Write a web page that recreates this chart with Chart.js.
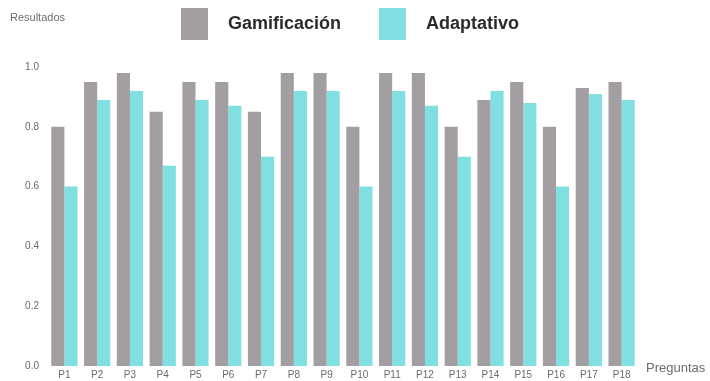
<!DOCTYPE html>
<html>
<head>
<meta charset="utf-8">
<script src="https://cdn.jsdelivr.net/npm/chart.js@4/dist/chart.umd.min.js"></script>
<style>
  html, body { margin: 0; padding: 0; background: #ffffff; }
  #wrap { width: 710px; height: 381px; }
</style>
</head>
<body>
<div id="wrap"><canvas id="c" width="710" height="381"></canvas></div>
<script>
// Questions P1..P18
const preguntas = ['P1','P2','P3','P4','P5','P6','P7','P8','P9','P10','P11','P12','P13','P14','P15','P16','P17','P18'];

// Result per question for each approach
const gamificacion = [0.80,0.95,0.98,0.85,0.95,0.95,0.85,0.98,0.98,0.80,0.98,0.98,0.80,0.89,0.95,0.80,0.93,0.95];
const adaptativo   = [0.60,0.89,0.92,0.67,0.89,0.87,0.70,0.92,0.92,0.60,0.92,0.87,0.70,0.92,0.88,0.60,0.91,0.89];

const serieNombres = ['Gamificación', 'Adaptativo'];
const yTicks = [0.0, 0.2, 0.4, 0.6, 0.8, 1.0];

const GRIS = '#a39ea1';
const CIAN = '#80e0e1';

// Axis captions and the big legend at the top
const decoracion = {
  id: 'decoracion',
  afterDraw(chart) {
    const ctx = chart.ctx;
    const area = chart.chartArea;
    ctx.save();
    ctx.textBaseline = 'middle';

    ctx.fillStyle = '#6b6b6b';
    ctx.font = '11px "Liberation Sans", Arial, sans-serif';
    ctx.textAlign = 'left';
    ctx.fillText('Resultados', 10, 18);

    ctx.font = '13px "Liberation Sans", Arial, sans-serif';
    ctx.fillText('Preguntas', area.right + 8, area.bottom + 2);

    // legend
    ctx.font = 'bold 18px "Liberation Sans", Arial, sans-serif';
    const boxW = 27, boxH = 32, gap = 20, between = 38;
    const items = chart.data.datasets.map(ds => ({ label: ds.label, color: ds.backgroundColor }));
    const widths = items.map(it => ctx.measureText(it.label).width);
    let total = 0;
    items.forEach((it, i) => { total += boxW + gap + widths[i]; });
    total += between * (items.length - 1);
    let x = 350 - total / 2;
    const cy = 24;
    items.forEach((it, i) => {
      ctx.fillStyle = it.color;
      ctx.fillRect(x, cy - boxH / 2, boxW, boxH);
      ctx.fillStyle = '#2b2b2b';
      ctx.fillText(it.label, x + boxW + gap, cy);
      x += boxW + gap + widths[i] + between;
    });
    ctx.restore();
  }
};

new Chart(document.getElementById('c'), {
  type: 'bar',
  data: {
    labels: preguntas,
    datasets: [
      { label: serieNombres[0], data: gamificacion, backgroundColor: GRIS },
      { label: serieNombres[1], data: adaptativo, backgroundColor: CIAN }
    ]
  },
  options: {
    responsive: false,
    animation: false,
    devicePixelRatio: 1,
    layout: { padding: { top: 67, right: 72, bottom: 0, left: 0 } },
    datasets: { bar: { categoryPercentage: 0.8, barPercentage: 1.0 } },
    plugins: {
      legend: { display: false },
      tooltip: { enabled: false }
    },
    scales: {
      x: {
        grid: { display: false, drawTicks: false },
        border: { display: false },
        ticks: {
          color: '#6b6b6b',
          font: { family: '"Liberation Sans", Arial, sans-serif', size: 10 },
          padding: 3,
          maxRotation: 0,
          autoSkip: false
        },
        afterFit(scale) { scale.height = 15; }
      },
      y: {
        min: 0,
        max: 1,
        grid: { display: false, drawTicks: false },
        border: { display: false },
        afterBuildTicks(scale) { scale.ticks = yTicks.map(v => ({ value: v })); },
        ticks: {
          color: '#6b6b6b',
          font: { family: '"Liberation Sans", Arial, sans-serif', size: 10 },
          padding: 9,
          callback: v => Number(v).toFixed(1)
        },
        afterFit(scale) { scale.width = 48; }
      }
    }
  },
  plugins: [decoracion]
});
</script>
</body>
</html>
